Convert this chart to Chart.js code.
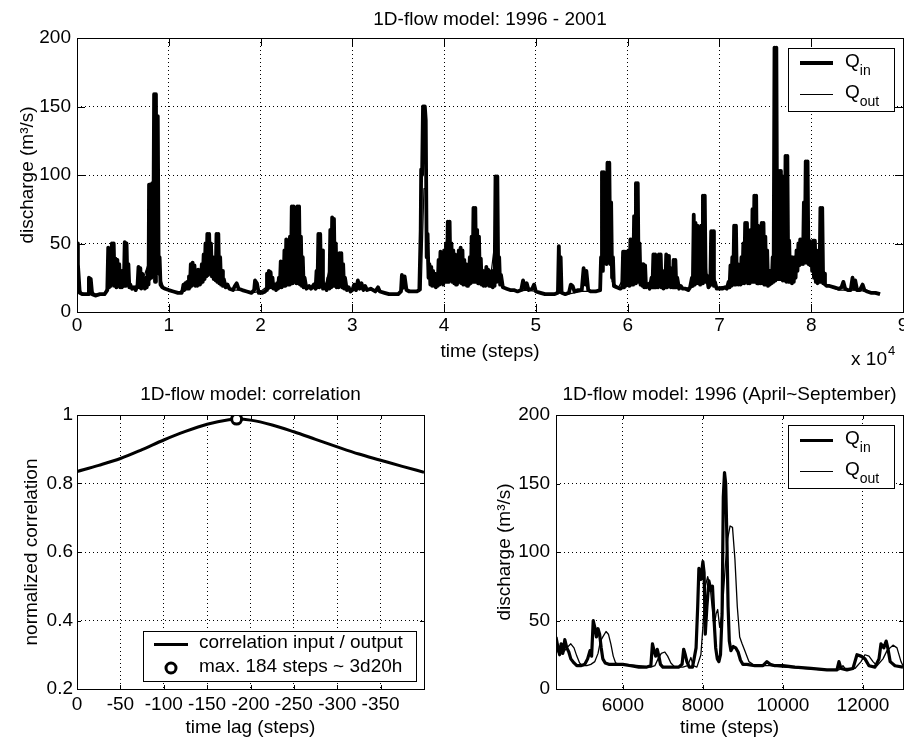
<!DOCTYPE html>
<html>
<head>
<meta charset="utf-8">
<title>1D-flow model</title>
<script src="https://cdn.jsdelivr.net/npm/chart.js@4.4.1/dist/chart.umd.min.js"></script>
<style>
  html, body { margin: 0; padding: 0; background: #fff; }
  #page { position: relative; width: 904px; height: 741px; overflow: hidden; }
  canvas { position: absolute; display: block; }
</style>
</head>
<body>
<div id="page">
  <canvas id="flowChart" width="904" height="370" style="left:0;top:0"></canvas>
  <canvas id="corrChart" width="450" height="371" style="left:0;top:370px"></canvas>
  <canvas id="seasonChart" width="454" height="371" style="left:450px;top:370px"></canvas>
</div>
<script>
// --- Data ---

// 1996 - 2001, time in units of 10^4 steps, discharge in m3/s
const qInFull = [
    [0, 50], [0.01, 35], [0.03, 14], [0.06, 13], [0.1, 13], [0.125, 13], [0.13, 25], [0.15, 24], [0.165, 13], [0.2, 12], [0.25, 13], [0.3, 13], [0.33, 16],
    [0.34, 47], [0.35, 18], [0.36, 46], [0.37, 19], [0.38, 50], [0.39, 20], [0.40, 50], [0.41, 19], [0.42, 39], [0.43, 18], [0.44, 38], [0.45, 19],
    [0.46, 35], [0.47, 18], [0.48, 30], [0.49, 18], [0.50, 25], [0.51, 19], [0.52, 51], [0.53, 19], [0.54, 50], [0.55, 20], [0.56, 35], [0.57, 18],
    [0.58, 20], [0.60, 17], [0.62, 18], [0.64, 16], [0.66, 20], [0.67, 33], [0.68, 18], [0.69, 32], [0.70, 17], [0.71, 28], [0.72, 18], [0.73, 22],
    [0.74, 17], [0.75, 25], [0.76, 18], [0.77, 30], [0.78, 20], [0.785, 93], [0.79, 24], [0.80, 93], [0.81, 25], [0.82, 94], [0.83, 30], [0.84, 159],
    [0.85, 22], [0.86, 159], [0.87, 28], [0.88, 143], [0.89, 30], [0.90, 40], [0.91, 20], [0.93, 18], [0.96, 17],
    [1.0, 16], [1.05, 15], [1.1, 14], [1.14, 14],
    [1.15, 16], [1.16, 20], [1.17, 16], [1.18, 21], [1.19, 17], [1.20, 22], [1.21, 17], [1.22, 26], [1.23, 18], [1.24, 35], [1.25, 19], [1.26, 36],
    [1.27, 20], [1.28, 34], [1.29, 19], [1.30, 30], [1.31, 19], [1.32, 31], [1.33, 20], [1.34, 30], [1.35, 21], [1.36, 35], [1.37, 22], [1.38, 42],
    [1.39, 24], [1.40, 50], [1.41, 26], [1.42, 57], [1.43, 27], [1.44, 57], [1.45, 28], [1.46, 50], [1.47, 26], [1.48, 40], [1.49, 24], [1.50, 35],
    [1.51, 23], [1.52, 57], [1.53, 22], [1.54, 57], [1.55, 21], [1.56, 40], [1.57, 20], [1.58, 30], [1.59, 19], [1.60, 24], [1.62, 18], [1.64, 20],
    [1.66, 17], [1.70, 16], [1.72, 19], [1.74, 21], [1.76, 17], [1.80, 16], [1.85, 15], [1.90, 14], [1.93, 16], [1.94, 23], [1.96, 21], [1.98, 14],
    [2.02, 14], [2.05, 15],
    [2.06, 16], [2.07, 28], [2.08, 17], [2.09, 30], [2.10, 18], [2.11, 29], [2.12, 18], [2.13, 25], [2.14, 17], [2.16, 20], [2.17, 16], [2.18, 21],
    [2.19, 17], [2.20, 25], [2.21, 18], [2.22, 37], [2.23, 18], [2.24, 36], [2.25, 19], [2.26, 45], [2.27, 19], [2.28, 53], [2.29, 20], [2.30, 50],
    [2.31, 20], [2.32, 55], [2.33, 21], [2.34, 77], [2.35, 21], [2.36, 77], [2.37, 22], [2.38, 60], [2.39, 21], [2.40, 77], [2.41, 21], [2.42, 77],
    [2.43, 20], [2.44, 55], [2.45, 19], [2.46, 40], [2.47, 18], [2.48, 25], [2.50, 17], [2.53, 19], [2.55, 17], [2.58, 20], [2.60, 17], [2.61, 30],
    [2.62, 18], [2.63, 57], [2.64, 18], [2.65, 57], [2.66, 19], [2.67, 45], [2.68, 17], [2.70, 20], [2.72, 16], [2.74, 25], [2.75, 17], [2.76, 60],
    [2.77, 18], [2.78, 69], [2.79, 19], [2.80, 68], [2.81, 19], [2.82, 50], [2.83, 18], [2.84, 37], [2.85, 18], [2.86, 43], [2.87, 19], [2.88, 43],
    [2.89, 18], [2.90, 35], [2.91, 17], [2.92, 25], [2.94, 16], [2.96, 18], [2.98, 15],
    [3.0, 16], [3.02, 20], [3.04, 16], [3.06, 23], [3.08, 17], [3.1, 21], [3.12, 16], [3.14, 19], [3.16, 16], [3.2, 17], [3.25, 15], [3.28, 18],
    [3.3, 15], [3.35, 14], [3.4, 13], [3.45, 13], [3.5, 13], [3.53, 15], [3.54, 27], [3.56, 18], [3.57, 26], [3.59, 16], [3.62, 15], [3.66, 15],
    [3.7, 15], [3.73, 16], [3.745, 60], [3.75, 104], [3.76, 100], [3.77, 150], [3.78, 120], [3.79, 150], [3.80, 140], [3.81, 40], [3.82, 57],
    [3.83, 25], [3.84, 35], [3.85, 20], [3.86, 33], [3.87, 19], [3.88, 30], [3.89, 19], [3.90, 28], [3.91, 18], [3.92, 25], [3.93, 19], [3.94, 38],
    [3.95, 20], [3.96, 44], [3.97, 21], [3.98, 40], [3.99, 20], [4.00, 45], [4.01, 22], [4.02, 50], [4.03, 22], [4.04, 66], [4.05, 22], [4.06, 66],
    [4.07, 23], [4.08, 50], [4.09, 22], [4.10, 45], [4.11, 21], [4.12, 42], [4.13, 20], [4.14, 40], [4.15, 21], [4.16, 45], [4.17, 22], [4.18, 47],
    [4.19, 21], [4.20, 45], [4.21, 20], [4.22, 38], [4.23, 20], [4.24, 35], [4.25, 19], [4.26, 33], [4.27, 20], [4.28, 40], [4.29, 21], [4.30, 55],
    [4.31, 22], [4.32, 76], [4.33, 22], [4.34, 76], [4.35, 22], [4.36, 60], [4.37, 21], [4.38, 55], [4.39, 21], [4.40, 39], [4.41, 20], [4.42, 30],
    [4.43, 19], [4.44, 30], [4.45, 19], [4.46, 33], [4.47, 20], [4.48, 31], [4.49, 19], [4.50, 25], [4.51, 19], [4.52, 30], [4.53, 18], [4.54, 28],
    [4.55, 19], [4.56, 99], [4.57, 22], [4.58, 99], [4.59, 25], [4.60, 40], [4.61, 20], [4.62, 27], [4.64, 18], [4.68, 17], [4.72, 16], [4.76, 16],
    [4.80, 15], [4.84, 16], [4.86, 23], [4.88, 17], [4.9, 21], [4.92, 16], [4.96, 17], [4.98, 20], [5.0, 15], [5.05, 14], [5.1, 13], [5.15, 13],
    [5.2, 13], [5.24, 14], [5.25, 48], [5.26, 15], [5.27, 40], [5.28, 14], [5.32, 13], [5.36, 14], [5.38, 20], [5.40, 19], [5.42, 15], [5.46, 16],
    [5.5, 16], [5.52, 32], [5.54, 20], [5.55, 30], [5.57, 16], [5.6, 15], [5.65, 15], [5.7, 16], [5.71, 40], [5.72, 102], [5.73, 30], [5.74, 102],
    [5.75, 40], [5.76, 74], [5.77, 35], [5.78, 109], [5.79, 40], [5.80, 109], [5.81, 35], [5.82, 80], [5.83, 25], [5.84, 40], [5.85, 19], [5.88, 18],
    [5.92, 17], [5.94, 18], [5.95, 44], [5.96, 18], [5.97, 44], [5.98, 19], [5.99, 44], [6.00, 20], [6.01, 45], [6.02, 19], [6.03, 53], [6.04, 20],
    [6.05, 53], [6.06, 20], [6.07, 70], [6.08, 21], [6.09, 94], [6.10, 22], [6.11, 94], [6.12, 22], [6.13, 50], [6.14, 20], [6.15, 35], [6.16, 19],
    [6.17, 35], [6.18, 18], [6.19, 34], [6.20, 18], [6.22, 20], [6.24, 17], [6.26, 25], [6.27, 18], [6.28, 42], [6.29, 18], [6.30, 42], [6.31, 18],
    [6.32, 30], [6.33, 18], [6.34, 42], [6.35, 19], [6.36, 42], [6.37, 18], [6.38, 30], [6.39, 17], [6.40, 28], [6.41, 18], [6.42, 42], [6.43, 18],
    [6.44, 41], [6.45, 19], [6.46, 30], [6.47, 18], [6.48, 32], [6.49, 18], [6.50, 38], [6.51, 18], [6.52, 38], [6.53, 18], [6.54, 25], [6.56, 17],
    [6.58, 19], [6.60, 17], [6.63, 17], [6.66, 16], [6.68, 18], [6.70, 25], [6.71, 19], [6.72, 71], [6.73, 20], [6.74, 65], [6.75, 21], [6.76, 63],
    [6.77, 21], [6.78, 60], [6.79, 20], [6.80, 63], [6.81, 21], [6.82, 85], [6.83, 22], [6.84, 85], [6.85, 22], [6.86, 27], [6.88, 18], [6.90, 20],
    [6.91, 59], [6.92, 20], [6.93, 59], [6.94, 19], [6.95, 22], [6.97, 17], [7.0, 17], [7.03, 17], [7.06, 18], [7.08, 17], [7.10, 22], [7.11, 18],
    [7.12, 34], [7.13, 19], [7.14, 40], [7.15, 20], [7.16, 63], [7.17, 20], [7.18, 63], [7.19, 21], [7.20, 35], [7.21, 20], [7.22, 30], [7.23, 20],
    [7.24, 40], [7.25, 21], [7.26, 50], [7.27, 21], [7.28, 65], [7.29, 22], [7.30, 65], [7.31, 21], [7.32, 52], [7.33, 21], [7.34, 60], [7.35, 22],
    [7.36, 75], [7.37, 22], [7.38, 85], [7.39, 22], [7.40, 85], [7.41, 21], [7.42, 63], [7.43, 21], [7.44, 55], [7.45, 21], [7.46, 65], [7.47, 21],
    [7.48, 65], [7.49, 20], [7.50, 55], [7.51, 20], [7.52, 45], [7.53, 19], [7.54, 30], [7.55, 20], [7.56, 25], [7.57, 21], [7.58, 40], [7.59, 22],
    [7.60, 193], [7.61, 23], [7.62, 193], [7.63, 24], [7.64, 103], [7.65, 24], [7.66, 103], [7.67, 24], [7.68, 99], [7.69, 23], [7.70, 99], [7.71, 23],
    [7.72, 114], [7.73, 22], [7.74, 114], [7.75, 22], [7.76, 52], [7.77, 22], [7.78, 40], [7.79, 21], [7.80, 28], [7.81, 22], [7.82, 40], [7.83, 25],
    [7.84, 45], [7.85, 30], [7.86, 50], [7.87, 34], [7.88, 53], [7.89, 35], [7.90, 53], [7.91, 35], [7.92, 80], [7.93, 36], [7.94, 110], [7.95, 36],
    [7.96, 110], [7.97, 35], [7.98, 52], [7.99, 34], [8.00, 50], [8.01, 30], [8.02, 52], [8.03, 25], [8.04, 52], [8.05, 22], [8.06, 28], [8.07, 21],
    [8.08, 45], [8.09, 22], [8.10, 76], [8.11, 22], [8.12, 76], [8.13, 21], [8.14, 28], [8.15, 20], [8.17, 19], [8.20, 19], [8.25, 18], [8.30, 17],
    [8.33, 18], [8.35, 22], [8.37, 17], [8.40, 16], [8.43, 16], [8.45, 25], [8.47, 17], [8.48, 23], [8.50, 16], [8.53, 16], [8.56, 20], [8.58, 16],
    [8.61, 15], [8.65, 14], [8.70, 14], [8.75, 13]
];

const qOutFull = [
    [0, 30], [0.02, 18], [0.05, 14], [0.1, 13], [0.15, 16], [0.2, 13], [0.3, 13], [0.35, 22], [0.4, 30], [0.45, 26], [0.5, 22], [0.55, 28],
    [0.6, 18], [0.7, 20], [0.8, 40], [0.85, 80], [0.87, 80], [0.89, 28], [0.95, 17], [1.0, 16], [1.1, 14], [1.2, 18], [1.3, 22], [1.4, 28],
    [1.45, 35], [1.5, 30], [1.55, 35], [1.6, 20], [1.7, 16], [1.8, 16], [1.9, 14], [2.0, 15], [2.1, 20], [2.2, 19], [2.3, 35], [2.35, 45],
    [2.4, 45], [2.45, 30], [2.5, 17], [2.6, 17], [2.65, 40], [2.7, 18], [2.8, 45], [2.85, 25], [2.9, 25], [2.95, 17], [3.0, 16], [3.1, 17],
    [3.2, 16], [3.3, 15], [3.4, 13], [3.5, 13], [3.57, 18], [3.65, 15], [3.75, 16], [3.78, 90], [3.80, 90], [3.82, 30], [3.9, 22], [4.0, 28],
    [4.06, 40], [4.15, 28], [4.25, 28], [4.34, 45], [4.42, 26], [4.5, 22], [4.57, 60], [4.61, 20], [4.7, 16], [4.8, 15], [4.9, 16], [5.0, 15],
    [5.1, 13], [5.2, 13], [5.26, 14], [5.35, 13], [5.5, 15], [5.6, 15], [5.7, 16], [5.74, 60], [5.8, 70], [5.83, 22], [5.9, 18], [6.0, 30],
    [6.1, 35], [6.12, 30], [6.2, 20], [6.3, 25], [6.4, 24], [6.5, 25], [6.6, 17], [6.7, 18], [6.76, 45], [6.84, 50], [6.87, 20], [6.93, 35],
    [6.96, 18], [7.1, 19], [7.2, 28], [7.3, 35], [7.4, 45], [7.5, 35], [7.58, 25], [7.62, 100], [7.66, 70], [7.72, 70], [7.78, 30], [7.85, 35],
    [7.95, 60], [8.0, 38], [8.05, 30], [8.11, 40], [8.15, 20], [8.3, 16], [8.4, 16], [8.5, 16], [8.6, 15], [8.7, 14], [8.75, 13]
];

// correlation between input and output (time lag in steps)
const corrLag = [0, -25, -50, -75, -100, -125, -150, -175, -184, -200, -225, -250, -275, -300, -325, -350, -375, -400];
const corrValue = [0.835, 0.853, 0.873, 0.899, 0.927, 0.952, 0.973, 0.986, 0.988, 0.985, 0.971, 0.951, 0.929, 0.907, 0.886, 0.868, 0.85, 0.833];
const peakLag = [-184];
const peakValue = [0.988];

// 1996 April ~ September, time in steps
const qInSeason = [
    [4330, 38], [4380, 30], [4420, 25], [4460, 33], [4500, 26], [4550, 36], [4600, 30], [4650, 27], [4700, 22], [4780, 19], [4850, 17], [4950, 17],
    [5050, 18], [5120, 22], [5180, 28], [5220, 24], [5260, 50], [5300, 45], [5340, 38], [5380, 44], [5420, 40], [5460, 30], [5500, 22], [5560, 19],
    [5650, 18], [5800, 18], [6000, 18], [6200, 17], [6400, 16], [6600, 16], [6700, 17], [6740, 33], [6780, 28], [6820, 24], [6860, 29], [6900, 24],
    [6940, 18], [7000, 16], [7200, 16], [7400, 16], [7480, 18], [7520, 29], [7560, 25], [7600, 20], [7660, 16], [7740, 16], [7780, 22], [7830, 30],
    [7870, 60], [7900, 88], [7950, 80], [8000, 93], [8030, 85], [8060, 40], [8100, 60], [8150, 79], [8200, 72], [8240, 75], [8280, 50], [8320, 30],
    [8360, 22], [8400, 20], [8440, 25], [8480, 55], [8510, 140], [8540, 158], [8570, 150], [8600, 110], [8630, 60], [8660, 35], [8700, 28], [8760, 31],
    [8820, 30], [8880, 27], [8940, 21], [9000, 18], [9100, 18], [9300, 17], [9500, 17], [9600, 20], [9680, 18], [9800, 17], [10000, 17], [10300, 16],
    [10700, 15], [11100, 14], [11350, 14], [11400, 20], [11450, 15], [11600, 14], [11750, 15], [11850, 25], [11950, 24], [12050, 22], [12150, 17],
    [12300, 16], [12400, 22], [12450, 33], [12520, 30], [12580, 35], [12620, 30], [12680, 20], [12800, 17], [13000, 16]
];

const qOutSeason = [
    [4330, 30], [4400, 26], [4460, 30], [4520, 27], [4600, 30], [4700, 33], [4780, 30], [4850, 24], [4920, 19], [5000, 17], [5100, 17], [5200, 18],
    [5300, 20], [5380, 26], [5440, 35], [5500, 38], [5580, 42], [5640, 40], [5700, 33], [5760, 24], [5820, 19], [5900, 18], [6100, 18], [6400, 17],
    [6700, 16], [6800, 17], [6880, 22], [6960, 26], [7050, 27], [7120, 24], [7200, 19], [7300, 16], [7500, 16], [7620, 17], [7700, 23], [7760, 17],
    [7850, 16], [7950, 25], [8000, 45], [8060, 75], [8120, 82], [8180, 75], [8230, 60], [8280, 45], [8330, 55], [8370, 58], [8420, 45], [8480, 55],
    [8560, 90], [8620, 110], [8680, 119], [8740, 118], [8800, 95], [8860, 60], [8920, 38], [8980, 33], [9060, 27], [9150, 20], [9250, 18], [9500, 17],
    [9700, 17], [10000, 16], [10500, 15], [11000, 14], [11400, 14], [11500, 17], [11550, 15], [11800, 15], [11950, 20], [12050, 25], [12150, 24],
    [12250, 20], [12350, 17], [12500, 22], [12600, 28], [12750, 32], [12850, 30], [12950, 20], [13000, 17]
];

// tick positions
const flowTimeTicks = [0, 1, 2, 3, 4, 5, 6, 7, 8, 9];
const dischargeTicks = [0, 50, 100, 150, 200];
const lagTicks = [0, -50, -100, -150, -200, -250, -300, -350];
const corrTicks = [0.2, 0.4, 0.6, 0.8, 1];
const seasonTimeTicks = [6000, 8000, 10000, 12000];

// --- Fonts and helpers ---
const FONT_FAMILY = '"Liberation Sans", Arial, Helvetica, sans-serif';
Chart.defaults.font.family = FONT_FAMILY;
Chart.defaults.font.size = 19;
Chart.defaults.color = '#000';

function toPoints(pairs) {
    return pairs.map(p => ({ x: p[0], y: p[1] }));
}

function zipPoints(xs, ys) {
    return xs.map((x, i) => ({ x: x, y: ys[i] }));
}

function fixWidth(w) {
    return scale => { scale.width = w; scale.paddingTop = 0; scale.paddingBottom = 0; };
}

function fixHeight(h) {
    return scale => { scale.height = h; scale.paddingLeft = 0; scale.paddingRight = 0; };
}

function axis(o) {
    return {
        type: 'linear',
        min: o.min,
        max: o.max,
        reverse: !!o.reverse,
        afterFit: o.fit,
        afterBuildTicks: scale => { scale.ticks = o.ticks.map(v => ({ value: v })); },
        grid: { color: '#000', lineWidth: 1, drawTicks: false },
        border: { display: false, dash: [1, 3] },
        ticks: {
            padding: o.pad,
            autoSkip: false,
            maxRotation: 0,
            color: '#000',
            font: { size: 19 },
            callback: v => String(v)
        },
        title: { display: true, text: o.title, color: '#000', font: { size: 19 }, padding: o.titlePad }
    };
}

function titleOpts(text, top, bottom) {
    return {
        display: true, text: text, fullSize: false, color: '#000',
        font: { size: 19, weight: 'normal' }, padding: { top: top, bottom: bottom }
    };
}

// label like 'Q_{in}' -> Q with subscript
function drawRichLabel(ctx, text, x, y) {
    const m = text.match(/^(.*)_\{(.*)\}$/);
    const main = m ? m[1] : text;
    ctx.fillStyle = '#000';
    ctx.textAlign = 'left';
    ctx.textBaseline = 'middle';
    ctx.font = '19px ' + FONT_FAMILY;
    ctx.fillText(main, x, y);
    if (m) {
        const w = ctx.measureText(main).width;
        ctx.font = '14px ' + FONT_FAMILY;
        ctx.fillText(m[2], x + w, y + 10);
    }
}

// --- Plugins ---

// box round the axes with small inward ticks on all sides
const matlabBox = {
    id: 'matlabBox',
    afterDatasetsDraw(chart, args, opts) {
        const { ctx, chartArea: a, scales } = chart;
        const len = opts.tickLength || 5;
        ctx.save();
        ctx.strokeStyle = '#000';
        ctx.lineWidth = 1;
        ctx.beginPath();
        scales.x.ticks.forEach(t => {
            const px = Math.round(scales.x.getPixelForValue(t.value)) + 0.5;
            ctx.moveTo(px, a.bottom); ctx.lineTo(px, a.bottom - len);
            ctx.moveTo(px, a.top); ctx.lineTo(px, a.top + len);
        });
        scales.y.ticks.forEach(t => {
            const py = Math.round(scales.y.getPixelForValue(t.value)) + 0.5;
            ctx.moveTo(a.left, py); ctx.lineTo(a.left + len, py);
            ctx.moveTo(a.right, py); ctx.lineTo(a.right - len, py);
        });
        ctx.stroke();
        ctx.strokeRect(Math.round(a.left) + 0.5, Math.round(a.top) + 0.5, Math.round(a.width), Math.round(a.height));
        ctx.restore();
    }
};

const matlabLegend = {
    id: 'matlabLegend',
    afterDraw(chart, args, opts) {
        if (!opts.width) return;
        const { ctx, chartArea: a } = chart;
        const x0 = Math.round(a.right - opts.right - opts.width);
        const y0 = opts.top !== undefined
            ? Math.round(a.top + opts.top)
            : Math.round(a.bottom - opts.bottom - opts.height);
        ctx.save();
        ctx.fillStyle = '#fff';
        ctx.fillRect(x0, y0, opts.width, opts.height);
        ctx.strokeStyle = '#000';
        ctx.lineWidth = 1;
        ctx.strokeRect(x0 + 0.5, y0 + 0.5, opts.width, opts.height);
        chart.data.datasets.forEach((ds, i) => {
            const y = y0 + opts.rows[i];
            const s0 = x0 + opts.sample[0];
            const s1 = x0 + opts.sample[1];
            ctx.strokeStyle = '#000';
            if (ds.showLine === false) {
                ctx.beginPath();
                ctx.arc((s0 + s1) / 2, y, ds.pointRadius, 0, Math.PI * 2);
                ctx.fillStyle = '#fff';
                ctx.fill();
                ctx.lineWidth = ds.pointBorderWidth;
                ctx.stroke();
            } else {
                // thin lines sit on the pixel centre so they stay crisp
                const w = Math.max(1, Math.round(ds.borderWidth));
                const ly = w % 2 ? y + 0.5 : y;
                ctx.beginPath();
                ctx.moveTo(s0, ly);
                ctx.lineTo(s1, ly);
                ctx.lineWidth = w;
                ctx.lineCap = 'butt';
                ctx.stroke();
            }
            drawRichLabel(ctx, ds.label, x0 + opts.textX, y - 1.5);
        });
        ctx.restore();
    }
};

// "x 10^4" multiplier under the right end of the time axis
const axisExponent = {
    id: 'axisExponent',
    afterDraw(chart) {
        const { ctx, chartArea: a } = chart;
        ctx.save();
        ctx.fillStyle = '#000';
        ctx.textBaseline = 'middle';
        ctx.textAlign = 'right';
        ctx.font = '19px ' + FONT_FAMILY;
        ctx.fillText('x 10', a.right - 16, a.bottom + 48);
        ctx.textAlign = 'left';
        ctx.font = '13px ' + FONT_FAMILY;
        ctx.fillText('4', a.right - 15, a.bottom + 39);
        ctx.restore();
    }
};

Chart.register(matlabBox, matlabLegend);

const baseOptions = {
    responsive: false,
    animation: false,
    events: [],
    elements: { point: { radius: 0 } }
};

function lineDataset(label, points, width) {
    return {
        label: label,
        data: points,
        borderColor: '#000',
        backgroundColor: '#000',
        borderWidth: width,
        borderJoinStyle: 'round',
        pointRadius: 0,
        tension: 0,
        fill: false
    };
}

// --- Charts ---

function initFlowChart() {
    new Chart(document.getElementById('flowChart'), {
        type: 'line',
        data: {
            datasets: [
                lineDataset('Q_{in}', toPoints(qInFull), 3.8),
                lineDataset('Q_{out}', toPoints(qOutFull), 1.2)
            ]
        },
        options: {
            ...baseOptions,
            layout: { padding: { left: 0, right: 1, top: 0, bottom: 0 } },
            scales: {
                x: axis({ min: 0, max: 9, ticks: flowTimeTicks, pad: 2, fit: fixHeight(58), title: 'time (steps)', titlePad: { top: 0, bottom: 6.6 } }),
                y: axis({ min: 0, max: 200, ticks: dischargeTicks, pad: 6, fit: fixWidth(77), title: 'discharge (m³/s)', titlePad: { top: 16.6, bottom: 0 } })
            },
            plugins: {
                legend: { display: false },
                tooltip: { enabled: false },
                title: titleOpts('1D-flow model: 1996 - 2001', 8, 7.2),
                matlabBox: { tickLength: 8 },
                matlabLegend: { width: 106, height: 63, right: 9, top: 10, rows: [15, 46], sample: [12, 45], textX: 57 }
            }
        },
        plugins: [axisExponent]
    });
}

function initCorrChart() {
    const curve = lineDataset('correlation input / output', zipPoints(corrLag, corrValue), 3);
    curve.cubicInterpolationMode = 'monotone';
    curve.order = 1;
    new Chart(document.getElementById('corrChart'), {
        type: 'line',
        data: {
            datasets: [
                curve,
                {
                    label: 'max. 184 steps ~ 3d20h',
                    data: zipPoints(peakLag, peakValue),
                    showLine: false,
                    order: 0,
                    pointRadius: 5,
                    pointBorderWidth: 3,
                    pointBorderColor: '#000',
                    pointBackgroundColor: '#fff'
                }
            ]
        },
        options: {
            ...baseOptions,
            layout: { padding: { left: 0, right: 26, top: 0, bottom: 0 } },
            scales: {
                x: axis({ min: -400, max: 0, ticks: lagTicks, pad: 4.6, reverse: true, fit: fixHeight(52), title: 'time lag (steps)', titlePad: { top: 0, bottom: 1.6 } }),
                y: axis({ min: 0.2, max: 1, ticks: corrTicks, pad: 4, fit: fixWidth(77), title: 'normalized correlation', titlePad: { top: 20.6, bottom: 0 } })
            },
            plugins: {
                legend: { display: false },
                tooltip: { enabled: false },
                title: titleOpts('1D-flow model: correlation', 13.6, 8.6),
                matlabBox: { tickLength: 4 },
                matlabLegend: { width: 273, height: 50, right: 8, bottom: 8, rows: [13, 37], sample: [11, 45], textX: 56 }
            }
        }
    });
}

function initSeasonChart() {
    new Chart(document.getElementById('seasonChart'), {
        type: 'line',
        data: {
            datasets: [
                lineDataset('Q_{in}', toPoints(qInSeason), 3.2),
                lineDataset('Q_{out}', toPoints(qOutSeason), 1.3)
            ]
        },
        options: {
            ...baseOptions,
            layout: { padding: { left: 0, right: 1, top: 0, bottom: 0 } },
            scales: {
                x: axis({ min: 4330, max: 13000, ticks: seasonTimeTicks, pad: 5, fit: fixHeight(52), title: 'time (steps)', titlePad: { top: 0, bottom: 1.6 } }),
                y: axis({ min: 0, max: 200, ticks: dischargeTicks, pad: 6, fit: fixWidth(106), title: 'discharge (m³/s)', titlePad: { top: 43.6, bottom: 0 } })
            },
            plugins: {
                legend: { display: false },
                tooltip: { enabled: false },
                title: titleOpts('1D-flow model: 1996 (April~September)', 13.6, 8.6),
                matlabBox: { tickLength: 4 },
                matlabLegend: { width: 106, height: 63, right: 9, top: 10, rows: [15, 46], sample: [12, 45], textX: 57 }
            }
        }
    });
}

// Start
initFlowChart();
initCorrChart();
initSeasonChart();
</script>
</body>
</html>
